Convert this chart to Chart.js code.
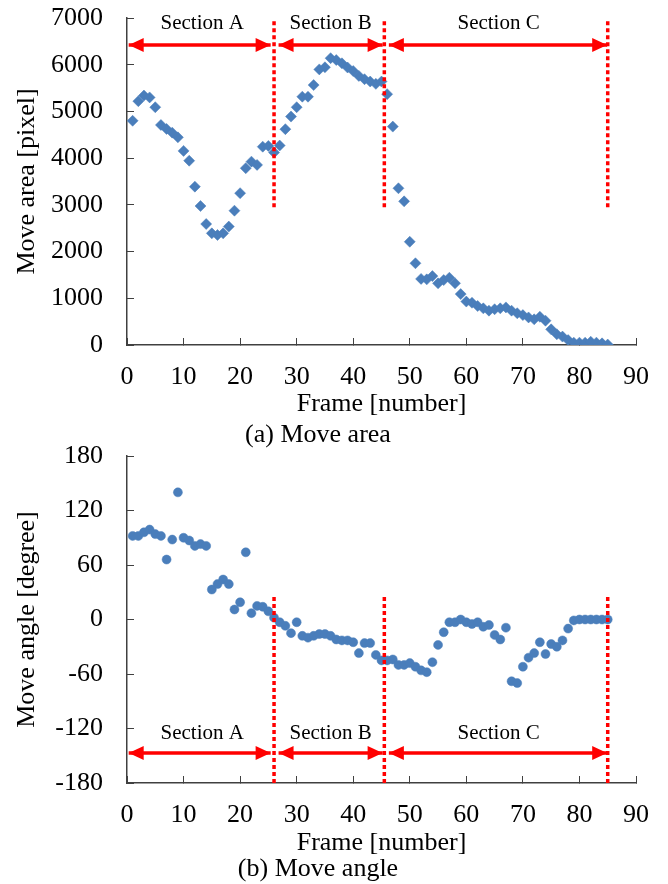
<!DOCTYPE html>
<html>
<head>
<meta charset="utf-8">
<script src="https://cdn.jsdelivr.net/npm/chart.js@4.4.1/dist/chart.umd.min.js"></script>
<style>
  html, body { margin: 0; padding: 0; background: #fff; }
  body { width: 668px; height: 884px; position: relative; overflow: hidden; }
  .box { position: absolute; left: 0; width: 668px; }
  #areaBox { top: 0; height: 452px; }
  #angleBox { top: 440px; height: 444px; }
</style>
</head>
<body>
<div class="box" id="areaBox"><canvas id="chartMoveArea"></canvas></div>
<div class="box" id="angleBox"><canvas id="chartMoveAngle"></canvas></div>
<script>
// frame numbers shared by both plots
const frames = [
  1, 2, 3, 4, 5, 6, 7, 8, 9, 10, 11, 12, 13, 14, 15, 16, 17, 18, 19, 20,
  21, 22, 23, 24, 25, 26, 27, 28, 29, 30, 31, 32, 33, 34, 35, 36, 37, 38, 39, 40,
  41, 42, 43, 44, 45, 46, 47, 48, 49, 50, 51, 52, 53, 54, 55, 56, 57, 58, 59, 60,
  61, 62, 63, 64, 65, 66, 67, 68, 69, 70, 71, 72, 73, 74, 75, 76, 77, 78, 79, 80,
  81, 82, 83, 84, 85
];

// (a) move area [pixel]
const moveArea = [
  4800, 5220, 5340, 5300, 5090, 4710, 4625, 4545, 4445, 4155,
  3945, 3390, 2975, 2590, 2390, 2355, 2390, 2535, 2875, 3250,
  3785, 3925, 3855, 4245, 4260, 4120, 4270, 4620, 4890, 5090,
  5315, 5315, 5565, 5900, 5945, 6140, 6100, 6030, 5940, 5865,
  5760, 5690, 5640, 5590, 5640, 5370, 4675, 3355, 3075, 2210,
  1750, 1415, 1405, 1475, 1320, 1390, 1440, 1320, 1090, 930,
  905, 835, 785, 735, 765, 785, 805, 735, 680, 640,
  590, 550, 605, 520, 335, 230, 180, 105, 50, 50,
  50, 70, 50, 35, 10
];

// (b) move angle [degree]
const moveAngle = [
  92, 92, 96, 99, 94, 92, 66, 88, 140, 90,
  87, 81, 83, 81, 33, 39, 44, 39, 11, 19,
  74, 7, 15, 14, 9, 2, -3, -7, -15, -3,
  -18, -20, -18, -16, -16, -18, -22, -23, -23, -25,
  -37, -26, -26, -39, -45, -45, -44, -50, -50, -48,
  -52, -56, -58, -47, -28, -14, -3, -3, 0, -3,
  -5, -3, -8, -6, -17, -22, -9, -68, -70, -52,
  -42, -37, -25, -38, -27, -30, -23, -10, -1, 0,
  0, 0, 0, 0, 0
];

const xTicks = [0, 10, 20, 30, 40, 50, 60, 70, 80, 90];
const areaTicks = [0, 1000, 2000, 3000, 4000, 5000, 6000, 7000];
const angleTicks = [-180, -120, -60, 0, 60, 120, 180];

const sectionNames = ['Section A', 'Section B', 'Section C'];
const sectionLabelFrames = [13.3, 36, 65.7];
const dividerFrames = [26, 45.5, 85];
const arrowStartFrames = [0.3, 26.8, 46.3];
const arrowEndFrames = [25.4, 45.2, 84.9];

const serif = "'Liberation Serif', 'Times New Roman', serif";
const axisColor = '#404040';
const markerColor = '#4A7EBB';
const sectionColor = '#FF0000';

function drawHead(ctx, tipX, tipY, dir) {
  ctx.beginPath();
  ctx.moveTo(tipX, tipY);
  ctx.lineTo(tipX - dir * 15, tipY - 7);
  ctx.lineTo(tipX - dir * 15, tipY + 7);
  ctx.closePath();
  ctx.fill();
}

// arrowheads on the section arrows and the section names
const sectionPlugin = {
  id: 'sections',
  afterDatasetsDraw(chart, args, opts) {
    const { ctx, scales: { x, y } } = chart;
    ctx.save();
    ctx.fillStyle = sectionColor;
    chart.data.datasets.forEach((ds, i) => {
      if (!ds.arrow) return;
      const pts = chart.getDatasetMeta(i).data;
      drawHead(ctx, pts[0].x, pts[0].y, -1);
      drawHead(ctx, pts[1].x, pts[1].y, 1);
    });
    ctx.fillStyle = '#000';
    ctx.font = '21px ' + serif;
    ctx.textAlign = 'center';
    ctx.textBaseline = 'middle';
    sectionNames.forEach((name, k) => {
      ctx.fillText(name, x.getPixelForValue(sectionLabelFrames[k]), y.getPixelForValue(opts.labelY));
    });
    ctx.restore();
  }
};

function makeChart(canvasId, cfg) {
  const datasets = [];

  dividerFrames.forEach(f => {
    datasets.push({
      data: [{ x: f, y: cfg.dividerLow }, { x: f, y: cfg.dividerHigh }],
      showLine: true,
      borderColor: sectionColor,
      borderWidth: 3.5,
      borderDash: [4, 3],
      pointRadius: 0
    });
  });

  arrowStartFrames.forEach((f, k) => {
    datasets.push({
      arrow: true,
      data: [{ x: f, y: cfg.arrowY }, { x: arrowEndFrames[k], y: cfg.arrowY }],
      showLine: true,
      borderColor: sectionColor,
      borderWidth: 3.5,
      pointRadius: 0
    });
  });

  datasets.push({
    data: frames.map((f, i) => ({ x: f, y: cfg.values[i] })),
    pointStyle: cfg.pointStyle,
    pointRadius: cfg.pointRadius,
    backgroundColor: markerColor,
    borderColor: markerColor,
    borderWidth: 0.5
  });

  return new Chart(document.getElementById(canvasId), {
    type: 'scatter',
    data: { datasets },
    options: {
      responsive: true,
      maintainAspectRatio: false,
      animation: false,
      layout: {
        padding: { top: cfg.padTop, right: 32, bottom: cfg.padBottom, left: 0 }
      },
      plugins: {
        legend: { display: false },
        tooltip: { enabled: false },
        title: {
          display: true,
          position: 'bottom',
          text: cfg.caption,
          color: '#000',
          font: { family: serif, size: 26, weight: 'normal', lineHeight: 1 },
          padding: { top: 0, bottom: 0 }
        },
        sections: { labelY: cfg.labelY }
      },
      scales: {
        x: {
          type: 'linear',
          min: 0,
          max: 90,
          afterBuildTicks: s => { s.ticks = xTicks.map(v => ({ value: v })); },
          afterFit: s => {
            s.height = cfg.xAxisHeight;
            s.paddingLeft = 0;
            s.paddingRight = 0;
          },
          ticks: {
            color: '#000',
            font: { family: serif, size: 26 },
            padding: 24,
            maxRotation: 0,
            autoSkip: false,
            callback: v => String(v)
          },
          grid: { drawOnChartArea: false, tickLength: -7, color: axisColor, lineWidth: 1 },
          border: { color: axisColor, width: 1.5 },
          title: {
            display: true,
            text: 'Frame [number]',
            color: '#000',
            font: { family: serif, size: 26, lineHeight: 1 },
            padding: { top: 0, bottom: cfg.xTitlePad }
          }
        },
        y: {
          type: 'linear',
          min: cfg.yTicks[0],
          max: cfg.yTicks[cfg.yTicks.length - 1],
          afterBuildTicks: s => { s.ticks = cfg.yTicks.map(v => ({ value: v })); },
          afterFit: s => {
            s.width = 127;
            s.paddingTop = 0;
            s.paddingBottom = 0;
          },
          ticks: {
            color: '#000',
            font: { family: serif, size: 26 },
            padding: 31,
            callback: v => String(v)
          },
          grid: { drawOnChartArea: false, tickLength: -7, color: axisColor, lineWidth: 1 },
          border: { color: axisColor, width: 1.5 },
          title: {
            display: true,
            text: cfg.yTitle,
            color: '#000',
            font: { family: serif, size: 26, lineHeight: 1 },
            padding: { top: 14, bottom: 0 }
          }
        }
      }
    },
    plugins: [sectionPlugin]
  });
}

makeChart('chartMoveArea', {
  values: moveArea,
  yTicks: areaTicks,
  yTitle: 'Move area [pixel]',
  caption: '(a) Move area',
  pointStyle: 'rectRot',
  pointRadius: 5.5,
  dividerLow: 2950,
  dividerHigh: 6950,
  arrowY: 6420,
  labelY: 6890,
  padTop: 18,
  padBottom: 4,
  xAxisHeight: 77,
  xTitlePad: 5
});

makeChart('chartMoveAngle', {
  values: moveAngle,
  yTicks: angleTicks,
  yTitle: 'Move angle [degree]',
  caption: '(b) Move angle',
  pointStyle: 'circle',
  pointRadius: 4.5,
  dividerLow: -180,
  dividerHigh: 28,
  arrowY: -147,
  labelY: -126,
  padTop: 16,
  padBottom: 2,
  xAxisHeight: 73,
  xTitlePad: 0
});
</script>
</body>
</html>
